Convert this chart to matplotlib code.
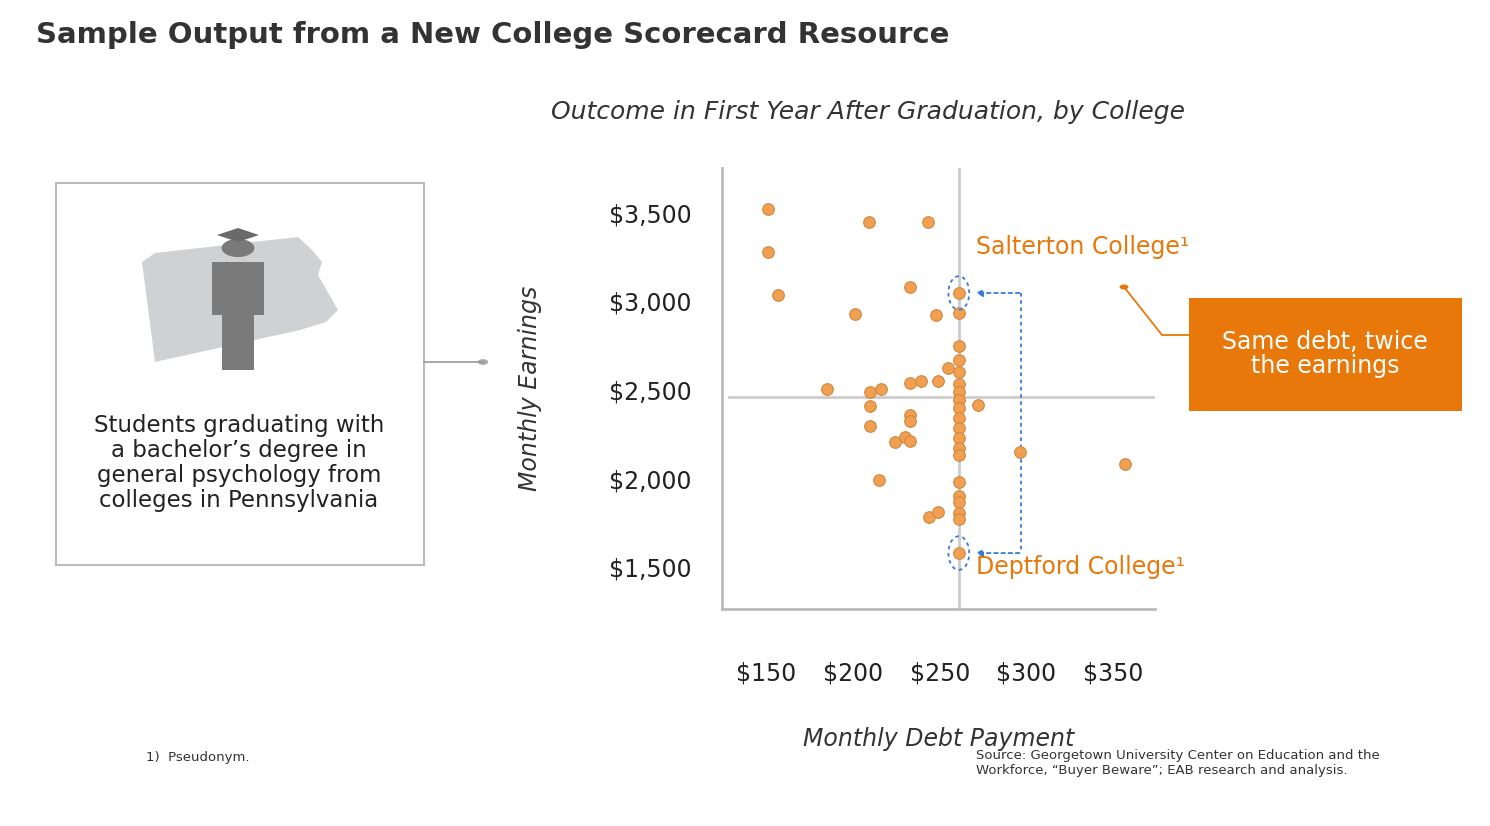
import matplotlib
matplotlib.use("Agg")
import matplotlib.pyplot as plt
from matplotlib.patches import Rectangle, Polygon, Circle, Ellipse

# data
debt = [151, 209, 243, 151, 157, 233, 201, 248, 261, 261, 261, 255, 261, 261,
        185, 210, 216, 210, 233, 239, 249, 261, 261, 261, 261, 272, 233, 233,
        210, 261, 261, 261, 261, 261, 224, 230, 233, 296, 357, 215, 261, 261,
        261, 261, 261, 244, 249, 261]
earn = [3523, 3449, 3449, 3280, 3037, 3082, 2929, 2924, 3048, 2935, 2749, 2624,
        2669, 2602, 2506, 2489, 2506, 2410, 2540, 2551, 2551, 2534, 2489, 2444,
        2398, 2415, 2359, 2325, 2297, 2342, 2285, 2229, 2172, 2133, 2206, 2234,
        2212, 2150, 2082, 1992, 1980, 1901, 1867, 1805, 1771, 1782, 1811, 1579]
xticks = [150, 200, 250, 300, 350]
yticks = [1500, 2000, 2500, 3000, 3500]
median_debt = 261
median_earn = 2460
salterton = (261, 3048)
deptford = (261, 1579)

W, H = 1490, 826
fig = plt.figure(figsize=(W / 100, H / 100), dpi=100)
ORANGE = "#E8780A"
GREY = "#555555"


def fx(px):
    return px / W


def fy(py):
    return 1 - py / H


ax = fig.add_axes([fx(722), fy(609), fx(1155) - fx(722), fy(168) - fy(609)])
ax.set_xlim(124.6, 374)
ax.set_ylim(1263, 3754)
for s in ["top", "right"]:
    ax.spines[s].set_visible(False)
for s in ["left", "bottom"]:
    ax.spines[s].set_color("#bbbbbb")
    ax.spines[s].set_linewidth(2)
ax.axvline(median_debt, color="#cccccc", lw=2, zorder=1)
ax.axhline(median_earn, xmin=0.016, color="#cccccc", lw=2, zorder=1)
ax.scatter(debt, earn, s=70, color="#F0A050", edgecolor="#D08840", lw=0.8, zorder=3)

ax.set_xticks(xticks)
ax.set_xticklabels(["$%d" % v for v in xticks])
ax.set_yticks(yticks)
ax.set_yticklabels(["${:,}".format(v) for v in yticks])
ax.tick_params(length=0, labelsize=17, colors="#222222")
ax.tick_params(axis="x", pad=38)
ax.tick_params(axis="y", pad=22)
ax.set_xlabel("Monthly Debt Payment", fontsize=17, style="italic", color="#333333", labelpad=30)
ax.set_ylabel("Monthly Earnings", fontsize=17, style="italic", color="#333333", labelpad=48)

# highlight circles and dashed arrows
for pt in [salterton, deptford]:
    ax.add_patch(Ellipse(pt, 12, 190, fill=False, ls=(0, (2, 2)), ec="#3A7BD5", lw=1.3, zorder=4))
ax.plot([297, 297], [salterton[1], deptford[1]], ls=(0, (2, 2)), color="#3A7BD5", lw=1.3)
for pt in [salterton, deptford]:
    ax.annotate("", xy=(pt[0] + 8, pt[1]), xytext=(297.5, pt[1]),
                arrowprops=dict(arrowstyle="-|>", color="#3A7BD5", ls=(0, (2, 2)), lw=1.3))
ax.text(271, 3270, "Salterton College\u00b9", color=ORANGE, fontsize=17)
ax.text(271, 1460, "Deptford College\u00b9", color=ORANGE, fontsize=17)

# titles
fig.text(fx(36), fy(35), "Sample Output from a New College Scorecard Resource",
         fontsize=21, fontweight="bold", color="#333333", va="center")
fig.text(fx(868), fy(112), "Outcome in First Year After Graduation, by College",
         fontsize=18, style="italic", color="#333333", ha="center", va="center")

# left box
fig.patches.append(Rectangle((fx(56), fy(565)), fx(424) - fx(56), fy(183) - fy(565),
                             transform=fig.transFigure, fill=False, ec="#bbbbbb", lw=1.5))
state = [(142, 262), (155, 253), (298, 237), (312, 250), (322, 262), (318, 275),
         (338, 310), (326, 322), (300, 330), (155, 362)]
fig.patches.append(Polygon([(fx(a), fy(b)) for a, b in state], closed=True,
                           transform=fig.transFigure, fc="#cfd1d3", ec="none"))
# graduate figure
fig.patches.append(Rectangle((fx(222), fy(370)), fx(32), fy(262) - fy(370),
                             transform=fig.transFigure, fc="#7a7a7a", ec="none"))
fig.patches.append(Rectangle((fx(212), fy(315)), fx(52), fy(262) - fy(315),
                             transform=fig.transFigure, fc="#7a7a7a", ec="none"))
fig.patches.append(Circle((fx(238), fy(248)), 0.011, transform=fig.transFigure, fc="#7a7a7a"))
fig.patches.append(Polygon([(fx(217), fy(235)), (fx(238), fy(228)), (fx(259), fy(235)),
                            (fx(238), fy(242))], transform=fig.transFigure, fc="#6a6a6a"))
fig.text(fx(239), fy(463), "Students graduating with\na bachelor\u2019s degree in\n"
         "general psychology from\ncolleges in Pennsylvania",
         fontsize=16.5, color="#222222", ha="center", va="center", linespacing=1.1)
fig.lines.append(plt.Line2D([fx(424), fx(483)], [fy(362), fy(362)],
                            transform=fig.transFigure, color="#999999", lw=1.2))
fig.patches.append(Circle((fx(483), fy(362)), 0.0035, transform=fig.transFigure, fc="#aaaaaa"))

# orange callout
fig.patches.append(Rectangle((fx(1189), fy(411)), fx(1462) - fx(1189), fy(298) - fy(411),
                             transform=fig.transFigure, fc=ORANGE, ec="none"))
fig.text(fx(1325), fy(354), "Same debt, twice\nthe earnings", color="white",
         fontsize=17, ha="center", va="center", linespacing=1.05)
fig.lines.append(plt.Line2D([fx(1189), fx(1162), fx(1124)], [fy(335), fy(335), fy(287)],
                            transform=fig.transFigure, color=ORANGE, lw=1.3))
fig.patches.append(Circle((fx(1124), fy(287)), 0.003, transform=fig.transFigure, fc=ORANGE))

# footnotes
fig.text(fx(146), fy(757), "1)  Pseudonym.", fontsize=9.5, color="#333333", va="center")
fig.text(fx(976), fy(763), "Source: Georgetown University Center on Education and the\n"
         "Workforce, \u201cBuyer Beware\u201d; EAB research and analysis.",
         fontsize=9.5, color="#333333", va="center")

fig.savefig("out.png", dpi=100)
